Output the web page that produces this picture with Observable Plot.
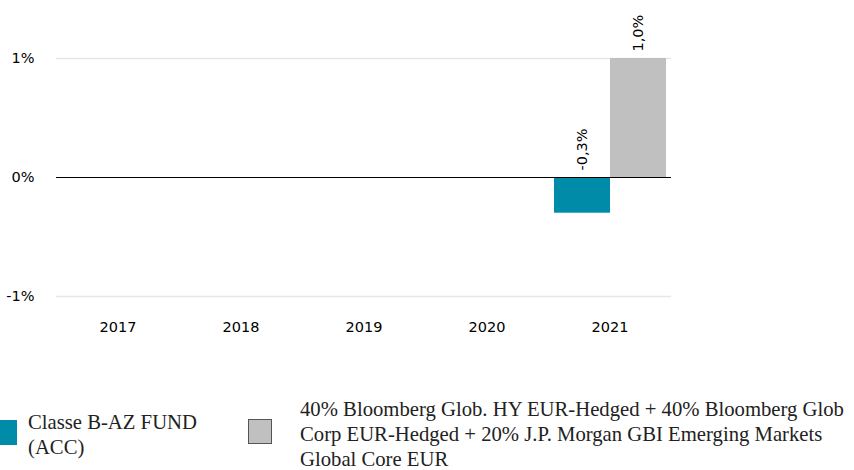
<!DOCTYPE html>
<html>
<head>
<meta charset="utf-8">
<script src="https://cdn.jsdelivr.net/npm/d3@7"></script>
<script src="https://cdn.jsdelivr.net/npm/@observablehq/plot@0.6"></script>
<style>
  html, body { margin: 0; padding: 0; background: #fff; }
  #wrap { position: relative; width: 854px; height: 470px; }
  #chart { position: absolute; left: 0; top: 0; }
  .sw { position: absolute; width: 24px; height: 25px; box-sizing: border-box; }
  .lt { position: absolute; font-family: "Liberation Serif", serif; font-size: 20.7px; line-height: 25px; color: #222; }
</style>
</head>
<body>
<div id="wrap">
  <div id="chart"></div>
  <div class="sw" id="sw0" style="left:-7px; top:420px;"></div>
  <div class="lt" id="lt0" style="left:28px; top:410px; width:178px;"></div>
  <div class="sw" id="sw1" style="left:248px; top:419px;"></div>
  <div class="lt" id="lt1" style="left:300px; top:397px; width:548px;"></div>
</div>
<script>
const years = ["2017", "2018", "2019", "2020", "2021"];
const seriesNames = [
  "Classe B-AZ FUND (ACC)",
  "40% Bloomberg Glob. HY EUR-Hedged + 40% Bloomberg Glob Corp EUR-Hedged + 20% J.P. Morgan GBI Emerging Markets Global Core EUR"
];
const seriesColors = ["#008CA8", "#C0C0C0"];
const fundValues = [null, null, null, null, -0.3];
const benchmarkValues = [null, null, null, null, 1.0];
const yTicks = [-1, 0, 1];

const data = [];
years.forEach((y, i) => {
  data.push({year: y, series: seriesNames[0], value: fundValues[i]});
  data.push({year: y, series: seriesNames[1], value: benchmarkValues[i]});
});
const fmt = v => v.toFixed(1).replace(".", ",") + "%";

const chart = Plot.plot({
  width: 854,
  height: 340,
  marginLeft: 56,
  marginRight: 183,
  marginTop: 58,
  marginBottom: 44,
  style: {fontFamily: "DejaVu Sans", fontSize: "14.5px", color: "#000", background: "transparent"},
  facet: {data: data, x: "year"},
  fx: {domain: years, padding: 0, label: null, tickSize: 0, tickPadding: 25, axis: "bottom"},
  x: {domain: seriesNames, axis: null, paddingInner: 0, paddingOuter: 0.09},
  y: {domain: [-1, 1], ticks: yTicks, tickFormat: d => d + "%", tickSize: 0, tickPadding: 22, label: null},
  color: {domain: seriesNames, range: seriesColors},
  marks: [
    Plot.ruleY([-1, 1], {stroke: "#e6e6e6", strokeWidth: 1.5}),
    Plot.barY(data, {x: "series", y: "value", fill: "series", filter: d => d.value != null}),
    Plot.ruleY([0], {stroke: "#000", strokeWidth: 1}),
    Plot.text(data, {x: "series", y: d => Math.max(0, d.value), text: d => d.value == null ? null : fmt(d.value),
      filter: d => d.value != null,
      rotate: -90, textAnchor: "start", dy: -7, fill: "#000", fontSize: 14.5})
  ]
});
document.getElementById("chart").appendChild(chart);

document.getElementById("sw0").style.background = seriesColors[0];
document.getElementById("sw1").style.background = seriesColors[1];
document.getElementById("sw1").style.border = "1px solid #555";
document.getElementById("lt0").textContent = seriesNames[0];
document.getElementById("lt1").textContent = seriesNames[1];
</script>
</body>
</html>
